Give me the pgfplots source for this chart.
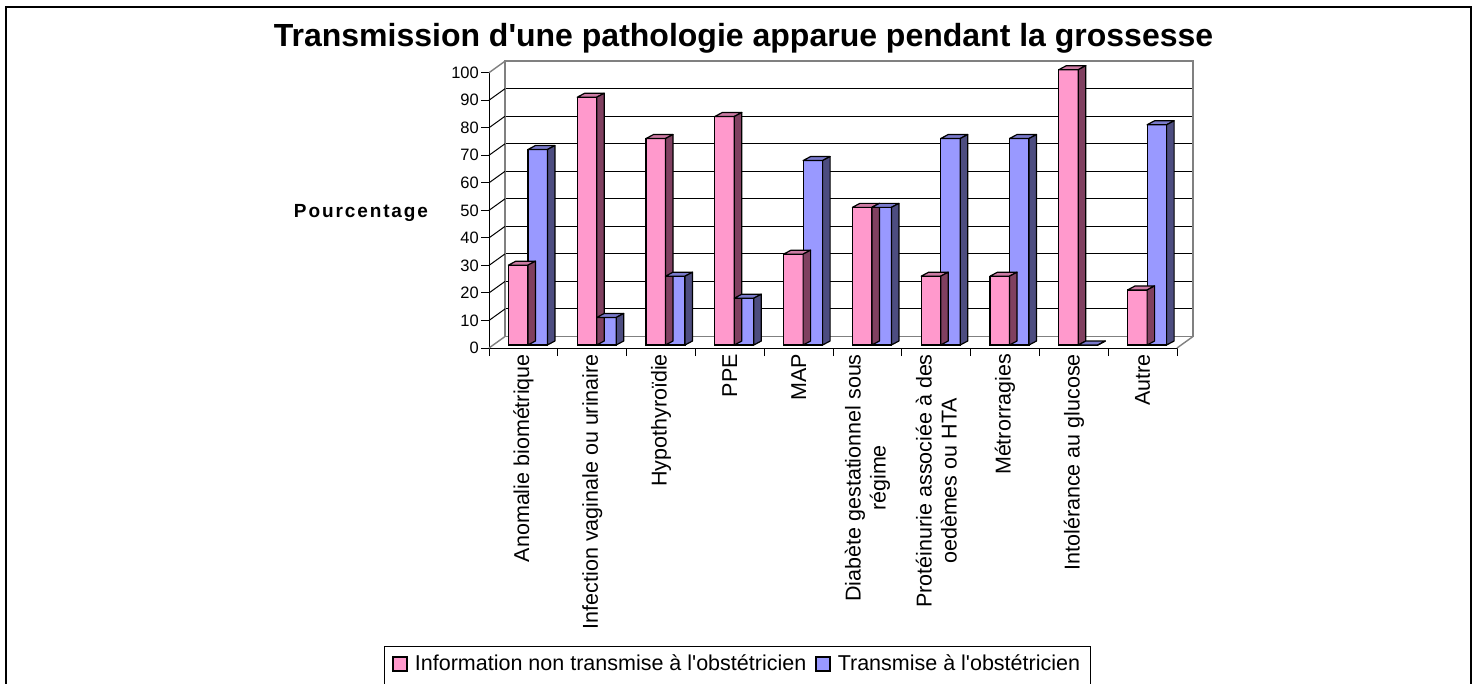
\documentclass[border=0pt]{standalone}
\usepackage{pgfplots}
\pgfplotsset{compat=1.18}
\usepackage{pgfplotstable}
\usepackage{fontspec}
\setmainfont{Liberation Sans}[Ligatures=TeXOff]
\newfontfamily\pourfont{Liberation Sans}[LetterSpace=10,Ligatures=TeXOff]
\definecolor{pinkf}{HTML}{FF99CC}
\definecolor{pinkt}{HTML}{CC7AA3}
\definecolor{pinks}{HTML}{804060}
\definecolor{bluef}{HTML}{9999FF}
\definecolor{bluet}{HTML}{7A7ACC}
\definecolor{blues}{HTML}{4D4D80}
\definecolor{wallgray}{HTML}{808080}

\pgfplotstableread{
x pink blue
0 29 71
1 90 10
2 75 25
3 83 17
4 33 67
5 50 50
6 25 75
7 25 75
8 100 0
9 20 80
}\datatable

\newcommand\bw{19.5}
\newcommand\ddx{7.5}
\newcommand\ddy{4}
\newcommand\yu{2.753}

\pgfplotsset{
  bar3d/.style n args={4}{%
    only marks, scatter, mark=text, text mark={},
    visualization depends on={\thisrow{#4} \as \rawy},
    scatter/@pre marker code/.code={%
      \pgfmathsetmacro\xl{#1*\bw}%
      \pgfmathsetmacro\xr{\xl+\bw}%
      \pgfmathsetmacro\hh{\rawy*\yu}%
      \filldraw[fill=#2, draw=black, line width=1.2pt, line join=round]
        (\xl pt,0pt) -- (\xl pt+\ddx pt,\ddy pt) -- (\xr pt+\ddx pt,\ddy pt) -- (\xr pt,0pt) -- cycle;
      \filldraw[fill=#3, draw=black, line width=1.2pt, line join=round]
        (\xr pt,0pt) -- (\xr pt+\ddx pt,\ddy pt) -- (\xr pt+\ddx pt,\ddy pt-\hh pt) -- (\xr pt,-\hh pt) -- cycle;
    },
    scatter/@post marker code/.code={},
    forget plot,
  },
}

\begin{document}
\begin{tikzpicture}
\useasboundingbox (0pt,0pt) rectangle (1480pt,-684pt);
\fill[white] (0pt,0pt) rectangle (1480pt,-684pt);
\draw[black, line width=1.5pt] (6pt,-7pt) rectangle (1471pt,-720pt);

\node[anchor=base, font=\fontsize{32}{37}\selectfont\bfseries] at (743.5pt,-46.7pt)
  {Transmission d'une pathologie apparue pendant la grossesse};
\node[anchor=base] at (361pt,-217.3pt) {\pourfont\fontsize{19}{22}\selectfont\bfseries Pourcentage};

% back wall
\begin{axis}[
  at={(505pt,-336.5pt)}, anchor=south west,
  width=688pt, height=275.3pt, scale only axis,
  xmin=-0.5, xmax=9.5, ymin=0, ymax=100,
  xtick=\empty, ytick={10,20,...,90}, yticklabels={}, major tick length=0pt,
  ymajorgrids, grid style={black, line width=1pt},
  axis line style={wallgray, line width=1.6pt},
]
\end{axis}

% front axis
\begin{axis}[
  at={(489pt,-348pt)}, anchor=south west,
  width=688pt, height=275.3pt, scale only axis,
  xmin=-0.5, xmax=9.5, ymin=0, ymax=100, clip=false,
  axis x line*=bottom, axis y line*=left,
  axis line style={black, line width=1pt, -},
  tick align=outside, major tick length=8pt,
  tick style={black, line width=1pt},
  ytick={0,10,...,100},
  /pgf/number format/assume math mode=true,
  yticklabel style={font=\fontsize{16.5}{18}\selectfont, inner sep=2pt},
  xtick={-0.5,0.5,...,9.5}, xticklabels={},
  extra x ticks={0,1,...,9},
  extra x tick style={major tick length=0pt},
  extra x tick labels={Anomalie biométrique, Infection vaginale ou urinaire, Hypothyroïdie, PPE, MAP, {Diabète gestationnel sous\\régime}, {Protéinurie associée à des\\oedèmes ou HTA}, Métrorragies, Intolérance au glucose, Autre},
  xticklabel style={rotate=90, anchor=east, align=center, font=\fontsize{21.5}{25}\selectfont, inner sep=6pt},
]
\addplot[draw=none, forget plot] coordinates {(0,0)};
\pgfplotsinvokeforeach{10,20,...,90}{
  \draw[black, line width=1pt] (axis cs:-0.5,#1) -- ++(16pt,11.5pt);
}
\draw[wallgray, line width=1.4pt] (axis cs:-0.5,0) -- ++(16pt,11.5pt);
\draw[wallgray, line width=1.4pt] (axis cs:-0.5,100) -- ++(16pt,11.5pt);
\draw[wallgray, line width=1.4pt] (axis cs:9.5,0) -- ++(16pt,11.5pt);
\end{axis}

% bars
\begin{axis}[
  at={(493.5pt,-345pt)}, anchor=south west,
  width=688pt, height=275.3pt, scale only axis,
  xmin=-0.5, xmax=9.5, ymin=0, ymax=100,
  hide axis, clip=false,
  legend columns=2,
  legend cell align=left,
  legend style={at={(-0.1592,-1.0933)}, anchor=north west, draw=black, line width=1pt,
    font=\fontsize{21.5}{24}\selectfont, inner xsep=8pt, inner ysep=6pt,
    nodes={text depth=14pt},
    /tikz/every odd column/.append style={column sep=5pt},
    /tikz/every even column/.append style={column sep=7pt}},
  legend image code/.code={\draw[#1, line width=1.5pt] (0pt,-1.5pt) rectangle (14pt,12.5pt);},
]
\addplot[bar3d={-1}{pinkt}{pinks}{pink}] table[x=x, y=pink]{\datatable};
\addplot[ybar, bar width=19.5pt, bar shift=-9.75pt, fill=pinkf, draw=black, line width=1.2pt]
  table[x=x, y=pink]{\datatable};
\addlegendentry{Information non transmise à l'obstétricien}
\addplot[bar3d={0}{bluet}{blues}{blue}] table[x=x, y=blue]{\datatable};
\addplot[ybar, bar width=19.5pt, bar shift=9.75pt, fill=bluef, draw=black, line width=1.2pt]
  table[x=x, y=blue]{\datatable};
\addlegendentry{Transmise à l'obstétricien}
\end{axis}
\end{tikzpicture}
\end{document}
